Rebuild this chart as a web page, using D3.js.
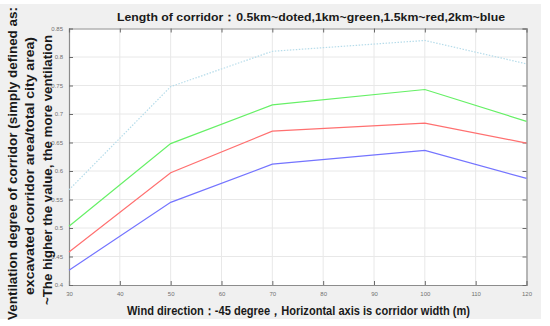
<!DOCTYPE html>
<html>
<head>
<meta charset="utf-8">
<script src="https://cdn.jsdelivr.net/npm/d3@7"></script>
<style>
	body { margin: 0; background: #fff; }
	text { font-family: "Liberation Sans", Arial, sans-serif; }
</style>
</head>
<body>
<div id="chart"></div>
<script>
// corridor width (m)
const widths = [30, 50, 70, 100, 120];
const dotted05 = [0.567, 0.748, 0.81, 0.829, 0.788];
const green1 = [0.503, 0.648, 0.716, 0.743, 0.687];
const red15 = [0.458, 0.597, 0.670, 0.684, 0.649];
const blue2 = [0.426, 0.545, 0.612, 0.636, 0.587];

const xTicks = [30, 40, 50, 60, 70, 80, 90, 100, 110, 120];
const yTicks = [0.4, 0.45, 0.5, 0.55, 0.6, 0.65, 0.7, 0.75, 0.8, 0.85];

const titleText = "Length of corridor：0.5km~doted,1km~green,1.5km~red,2km~blue";
const xLabelText = "Wind direction：-45 degree，Horizontal axis is corridor width (m)";
const yLabel = [
	"Ventilation degree of corridor (simply defined as:",
	"excavated corridor area/total city area)",
	"~The higher the value, the more ventilation",
];

const width = 550, height = 326;
const margin = { top: 28.5, right: 23.5, bottom: 41, left: 69 };

const svg = d3.select("#chart")
	.append("svg")
	.attr("width", width)
	.attr("height", height);

// figure background
svg.append("rect")
	.attr("x", 0).attr("y", 4)
	.attr("width", 541).attr("height", 315)
	.attr("fill", "#f0f0f0");

const x = d3.scaleLinear().domain([30, 120]).range([margin.left, width - margin.right]);
const y = d3.scaleLinear().domain([0.4, 0.85]).range([height - margin.bottom, margin.top]);

svg.append("rect")
	.attr("x", x(30)).attr("y", y(0.85))
	.attr("width", x(120) - x(30)).attr("height", y(0.4) - y(0.85))
	.attr("fill", "#fff");

// grid
svg.append("g")
	.selectAll("line")
	.data(xTicks.slice(1, -1))
	.join("line")
	.attr("x1", (d) => x(d)).attr("x2", (d) => x(d))
	.attr("y1", y(0.4)).attr("y2", y(0.85))
	.attr("stroke", "#e8e8e8");
svg.append("g")
	.selectAll("line")
	.data(yTicks.slice(1, -1))
	.join("line")
	.attr("x1", x(30)).attr("x2", x(120))
	.attr("y1", (d) => y(d)).attr("y2", (d) => y(d))
	.attr("stroke", "#e8e8e8");

// axes
const fmtY = (d) => String(+d.toFixed(2));
const xAxis = svg.append("g")
	.attr("transform", `translate(0,${y(0.4)})`)
	.call(d3.axisBottom(x).tickValues(xTicks).tickSize(-4).tickPadding(7));
const yAxis = svg.append("g")
	.attr("transform", `translate(${x(30)},0)`)
	.call(d3.axisLeft(y).tickValues(yTicks).tickSize(-4).tickPadding(6).tickFormat(fmtY));
const xTop = svg.append("g")
	.attr("transform", `translate(0,${y(0.85)})`)
	.call(d3.axisTop(x).tickValues(xTicks).tickSize(-4).tickFormat(""));
const yRight = svg.append("g")
	.attr("transform", `translate(${x(120)},0)`)
	.call(d3.axisRight(y).tickValues(yTicks).tickSize(-4).tickFormat(""));

[xAxis, yAxis, xTop, yRight].forEach((g) => {
	g.select(".domain").attr("stroke", "#8c8c8c").attr("stroke-width", 1.2);
	g.selectAll(".tick line").attr("stroke", "#6a6a6a");
	g.selectAll(".tick text")
		.attr("fill", "#707070")
		.style("font-size", "6px");
});

// series
const line = d3.line()
	.x((d, i) => x(widths[i]))
	.y((d) => y(d));

const series = [
	{ values: dotted05, color: "#b6dcea", dash: "1.5,1.5" },
	{ values: green1, color: "#66f066", dash: null },
	{ values: red15, color: "#ff7070", dash: null },
	{ values: blue2, color: "#7474ff", dash: null },
];

svg.append("g")
	.selectAll("path")
	.data(series)
	.join("path")
	.attr("d", (d) => line(d.values))
	.attr("fill", "none")
	.attr("stroke", (d) => d.color)
	.attr("stroke-width", 1.2)
	.attr("stroke-dasharray", (d) => d.dash);

// squeeze a text to a given length
const fitTo = (sel, len) => sel.attr("textLength", len).attr("lengthAdjust", "spacingAndGlyphs");

// title
svg.append("text")
	.attr("x", 311).attr("y", 20.5)
	.attr("text-anchor", "middle")
	.style("font-size", "11.5px")
	.style("font-weight", "bold")
	.attr("fill", "#1a1a1a")
	.text(titleText)
	.call(fitTo, 388);

// x label
svg.append("text")
	.attr("x", 298.5).attr("y", 315)
	.attr("text-anchor", "middle")
	.style("font-size", "13px")
	.style("font-weight", "bold")
	.attr("fill", "#1a1a1a")
	.text(xLabelText)
	.call(fitTo, 343);

// y label, lengths and centres
const yLens = [313, 258, 270];
const yMids = [163.5, 166, 170];
svg.append("text")
	.attr("transform", "translate(16.5,0) rotate(-90)")
	.attr("text-anchor", "middle")
	.style("font-size", "13px")
	.style("font-weight", "bold")
	.attr("fill", "#1a1a1a")
	.selectAll("tspan")
	.data(yLabel)
	.join("tspan")
	.attr("x", (d, i) => -yMids[i])
	.attr("y", (d, i) => i * 17.5)
	.attr("textLength", (d, i) => yLens[i])
	.attr("lengthAdjust", "spacingAndGlyphs")
	.text((d) => d);
</script>
</body>
</html>
